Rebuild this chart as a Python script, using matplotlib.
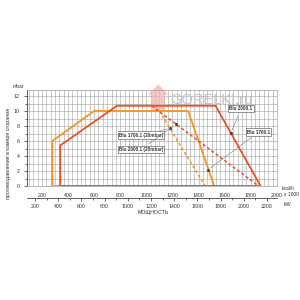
import numpy as np
import matplotlib
matplotlib.use("Agg")
import matplotlib.pyplot as plt
from matplotlib.ticker import MultipleLocator

plt.rcParams['font.family'] = ['Liberation Sans', 'DejaVu Sans']

# working fields (kcal/h x 1000, mbar)
blu1700_x = [280, 280, 600, 1320, 1520, 280]
blu1700_y = [0, 6.0, 10.0, 10.0, 0, 0]
blu2000_x = [340, 340, 775, 1530, 1875, 340]
blu2000_y = [0, 5.4, 10.7, 10.7, 0, 0]

# reduced curves at 20 mbar
blu1700_20_x = [1100, 1450]
blu1700_20_y = [10.0, 0]
blu2000_20_x = [1040, 1860]
blu2000_20_y = [10.7, 0]

kcal_ticks = list(range(200, 2001, 200))
kw_ticks = list(range(200, 2201, 200))

orange = "#F7941D"
red = "#F04E23"
txt = "#333333"


def kcal_to_kw(v):
    return (np.asarray(v) + 30) * 1.126


def kw_to_kcal(v):
    return np.asarray(v) / 1.126 - 30


fig = plt.figure(figsize=(3, 3), dpi=100)
ax = fig.add_axes([0.09, 0.38, 0.833, 0.32])
ax.set_xlim(86, 2000)
ax.set_ylim(0, 12.8)

ax.xaxis.set_minor_locator(MultipleLocator(200 / 6))
ax.yaxis.set_minor_locator(MultipleLocator(0.5))
ax.grid(which="both", color="#a0a0a0", lw=0.4)
ax.set_axisbelow(True)

for s in ["top", "right", "bottom"]:
    ax.spines[s].set_color("#a0a0a0")
    ax.spines[s].set_linewidth(0.5)
ax.spines["left"].set_color("#444444")
ax.spines["left"].set_linewidth(0.6)

ax.set_xticks(kcal_ticks)
ax.set_xticklabels([str(t) for t in kcal_ticks])
ax.set_yticks(range(0, 13, 2))
ax.tick_params(axis="x", which="both", length=0, labelsize=3.8, colors=txt, pad=5)
ax.tick_params(axis="y", which="major", length=2.5, width=0.5, labelsize=3.8,
               colors=txt, pad=3)
ax.set_yticks(range(0, 13, 1), minor=True)
ax.tick_params(axis="y", which="minor", length=1.5, width=0.4)

# watermark
ax.text(0.575, 0.90, "GORELKI.ru", transform=ax.transAxes, fontsize=10.5,
        color="#c4c4c4", ha="left", va="center", zorder=1)
ax.fill([0.485, 0.525, 0.565, 0.55, 0.55, 0.50, 0.50],
        [0.95, 1.06, 0.95, 0.95, 0.78, 0.78, 0.95],
        transform=ax.transAxes, color="#f4b3b3", alpha=0.75, zorder=1, lw=0,
        clip_on=False)

ax.plot(blu1700_x, blu1700_y, color=orange, lw=1.3, zorder=3)
ax.plot(blu2000_x, blu2000_y, color=red, lw=1.3, zorder=4)
ax.plot(blu1700_20_x, blu1700_20_y, color=orange, lw=1.1, ls=(0, (2, 1.5)), zorder=3)
ax.plot(blu2000_20_x, blu2000_20_y, color=red, lw=1.1, ls=(0, (2, 1.5)), zorder=3)


def on_seg(xs, ys, i, f):
    return (xs[i] + f * (xs[i + 1] - xs[i]), ys[i] + f * (ys[i + 1] - ys[i]))


box = dict(boxstyle="square,pad=0.25", fc="white", ec="#444444", lw=0.4)
arrow = dict(arrowstyle="-", color="#777777", lw=0.4)
labels = [
    ("Blu 2000.1", on_seg(blu2000_x, blu2000_y, 3, 0.34), (1725, 10.3)),
    ("Blu 1700.1", on_seg(blu1700_x, blu1700_y, 3, 0.78), (1860, 7.2)),
    ("Blu 1700.1 (20mbar)", on_seg(blu1700_20_x, blu1700_20_y, 0, 0.23), (960, 6.8)),
    ("Blu 2000.1 (20mbar)", on_seg(blu2000_20_x, blu2000_20_y, 0, 0.23), (960, 4.9)),
]
for name, xy, xyt in labels:
    ax.plot(*xy, marker="o", ms=1.2, color="#444444", zorder=6)
    ax.annotate(name, xy=xy, xytext=xyt, fontsize=3.3, fontweight="bold",
                color=txt, ha="center", va="center", bbox=box,
                arrowprops=arrow, zorder=7)

# kW scale under the kcal/h scale
sec = ax.secondary_xaxis(-0.125, functions=(kcal_to_kw, kw_to_kcal))
sec.set_xticks(kw_ticks)
sec.xaxis.set_minor_locator(MultipleLocator(100))
sec.spines["bottom"].set_color("#444444")
sec.spines["bottom"].set_linewidth(0.6)
sec.tick_params(axis="x", which="major", length=2.5, width=0.5, labelsize=3.8,
                colors=txt, pad=2)
sec.tick_params(axis="x", which="minor", length=1.5, width=0.4)

fig.text(0.062, 0.705, "mbar", fontsize=3.6, color=txt, ha="center", va="bottom")
fig.text(0.028, 0.49, "противодавление в камере сгорания", fontsize=3.8,
         color=txt, rotation=90, ha="center", va="center")
fig.text(0.94, 0.372, "kcal/h", fontsize=3.5, color=txt, ha="left", va="center")
fig.text(0.945, 0.352, "x 1000", fontsize=3.5, color=txt, ha="left", va="center")
fig.text(0.945, 0.32, "kW", fontsize=3.8, color=txt, ha="left", va="center")
fig.text(0.51, 0.293, "МОЩНОСТЬ", fontsize=3.8, color=txt, ha="center", va="center")

fig.savefig("out.png", dpi=100)
